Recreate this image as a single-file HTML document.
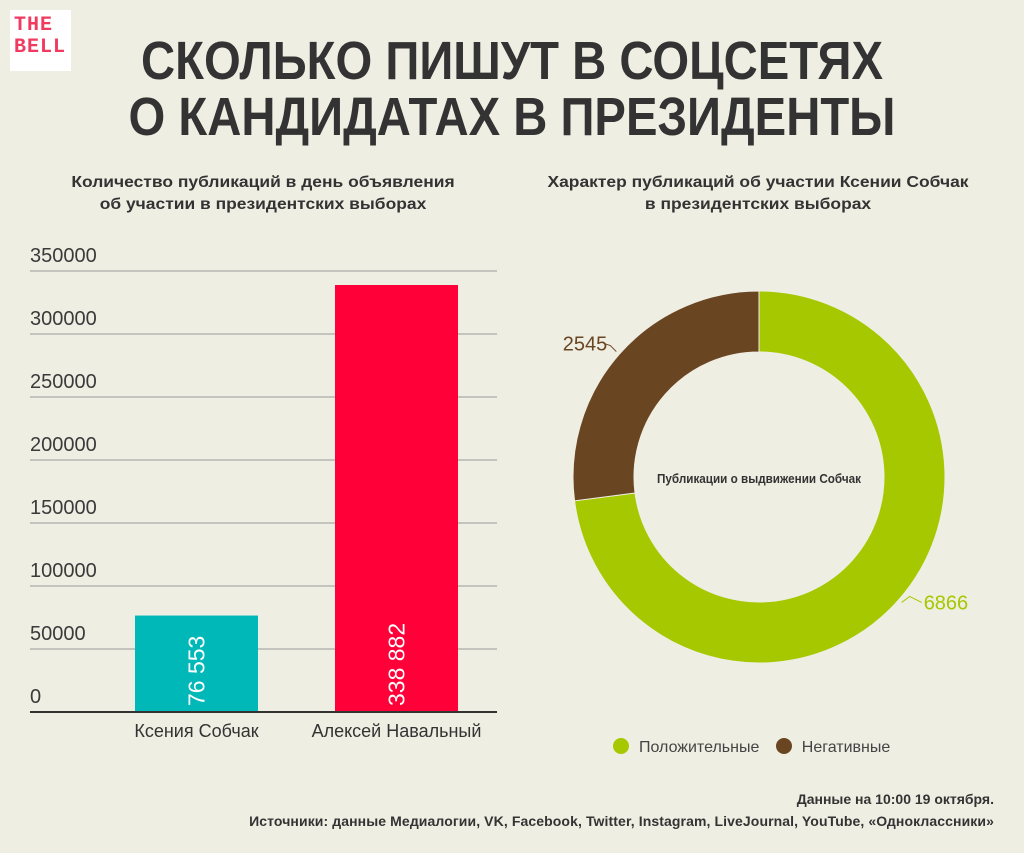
<!DOCTYPE html>
<html><head><meta charset="utf-8">
<style>
body{margin:0;background:#efeee3;}
#root{position:relative;width:1024px;height:853px;background:#efeee3;overflow:hidden;font-family:"Liberation Sans",sans-serif;color:#333;}
.t{position:absolute;white-space:nowrap;}
.title{left:0;width:1024px;text-align:center;font-family:"Liberation Sans",sans-serif;font-weight:bold;font-size:54px;line-height:56px;color:#333;transform:scaleX(0.875);transform-origin:512px 0;}
.sub{font-weight:bold;font-size:16px;line-height:22px;text-align:center;font-family:"Liberation Sans",sans-serif;transform:scaleX(1.09);}
</style></head><body>
<div id="root">
<div class="t" style="left:10px;top:10px;width:61px;height:61px;background:#fff;">
 <div style="position:absolute;left:4px;top:5px;font:bold 20px/22px 'Liberation Mono',monospace;color:#f03a5f;letter-spacing:1px;">THE<br>BELL</div>
</div>
<div class="t title" style="top:33px;">СКОЛЬКО ПИШУТ В СОЦСЕТЯХ<br>О КАНДИДАТАХ В ПРЕЗИДЕНТЫ</div>
<div class="t sub" style="left:20px;width:486px;top:172px;">Количество публикаций в день объявления<br>об участии в президентских выборах</div>
<div class="t sub" style="left:510px;width:496px;top:172px;">Характер публикаций об участии Ксении Собчак<br>в президентских выборах</div>
<svg id="bars" width="1024" height="853" style="position:absolute;left:0;top:0;"></svg>
<svg id="donut" width="1024" height="853" style="position:absolute;left:0;top:0;"></svg>
<div class="t" style="left:613px;top:738px;font-size:16px;color:#444;">
 <span><span style="display:inline-block;width:16px;height:16px;border-radius:50%;background:#a5c800;vertical-align:-2px;margin-right:10px;"></span>Положительные</span>
 <span style="margin-left:12px;"><span style="display:inline-block;width:16px;height:16px;border-radius:50%;background:#694522;vertical-align:-2px;margin-right:10px;"></span>Негативные</span>
</div>
<div class="t" style="right:30px;top:791px;font:bold 14px 'Liberation Sans',sans-serif;">Данные на 10:00 19 октября.</div>
<div class="t" style="right:30px;top:813px;font:bold 14px 'Liberation Sans',sans-serif;letter-spacing:0.1px;">Источники: данные Медиалогии, VK, Facebook, Twitter, Instagram, LiveJournal, YouTube, «Одноклассники»</div>
</div>
<script>
const barCategories=["Ксения Собчак","Алексей Навальный"];
const barValues=[76553,338882];
const barLabels=["76 553","338 882"];
const barColors=["#00b8b8","#ff0039"];
const yTicks=[0,50000,100000,150000,200000,250000,300000,350000];
const donutLabels=["Положительные","Негативные"];
const donutValues=[6866,2545];
const donutColors=["#a5c800","#694522"];
const NS="http://www.w3.org/2000/svg";
function mk(p,tag,a){const e=document.createElementNS(NS,tag);for(const k in a)e.setAttribute(k,a[k]);p.appendChild(e);return e;}
const bs=document.getElementById('bars');
const y0=712,y1=271,yMax=350000;
const y=v=>y0-(v/yMax)*(y0-y1);
const x=i=>135+i*200;
yTicks.forEach(t=>{
 if(t>0){const l=mk(bs,'line',{x1:30,x2:497,y1:y(t),y2:y(t),stroke:'#999','stroke-width':1});
 
 }
 const tx=mk(bs,'text',{x:30,y:y(t)-9,'font-size':20,fill:'#3a3a3a','font-family':'Liberation Sans, sans-serif'});
 tx.textContent=t;
 
 
});
barValues.forEach((v,i)=>{
 const r=mk(bs,'rect',{x:x(i),y:y(v),width:123,height:y0-y(v),fill:barColors[i]});
 
 
 const cx=x(i)+61.5+8;
 const tl=mk(bs,'text',{x:cx,y:y0-6,'font-size':23,fill:'#fff',transform:`rotate(-90 ${cx} ${y0-6})`,'font-family':'Liberation Sans, sans-serif'});
 tl.textContent=barLabels[i];
 
 
 const cl=mk(bs,'text',{x:x(i)+61.5,y:737,'font-size':18,fill:'#333','text-anchor':'middle','font-family':'Liberation Sans, sans-serif'});
 cl.textContent=barCategories[i];
 
 
});
const ax=mk(bs,'line',{x1:30,x2:497,y1:y0,y2:y0,stroke:'#333','stroke-width':2});


const ds=document.getElementById('donut');
const cx=759,cy=477,R=186,r0=125;
const tot=donutValues.reduce((a,b)=>a+b,0);
let a=0;
const pt=(ang,rad)=>[cx+rad*Math.sin(ang),cy-rad*Math.cos(ang)];
donutValues.forEach((v,i)=>{
 const a2=a+v/tot*2*Math.PI;
 const lg=(a2-a)>Math.PI?1:0;
 const [x1,y1_]=pt(a,R),[x2,y2]=pt(a2,R),[x3,y3]=pt(a2,r0),[x4,y4]=pt(a,r0);
 const p=mk(ds,'path',{d:`M${x1},${y1_}A${R},${R} 0 ${lg} 1 ${x2},${y2}L${x3},${y3}A${r0},${r0} 0 ${lg} 0 ${x4},${y4}Z`,fill:donutColors[i],stroke:'#efeee3','stroke-width':1});
 
 
 const mid=(a+a2)/2;
 const [lx,ly]=pt(mid,R+4);
 const right=Math.sin(mid)>0;
 const ex=lx+(right?20:-12), ey=ly+(right?0:-8);
 const ln=mk(ds,'polyline',{points:`${lx},${ly} ${right?lx+8:lx-6},${right?ly-6:ly-6} ${ex},${ey}`,fill:'none',stroke:donutColors[i],'stroke-width':1});
 
 
 const t=mk(ds,'text',{x:right?ex+2:ex+3,y:ey+7,'font-size':20,fill:donutColors[i],'text-anchor':right?'start':'end','font-family':'Liberation Sans, sans-serif'});
 t.textContent=v;
 
 
 a=a2;
});
const ct=mk(ds,'text',{x:cx,y:cy+6,'font-size':13,'font-weight':'bold',fill:'#333','text-anchor':'middle','font-family':'Liberation Sans, sans-serif',transform:`translate(${cx} 0) scale(0.9 1) translate(${-cx} 0)`});
ct.textContent='Публикации о выдвижении Собчак';


</script>
</body></html>
